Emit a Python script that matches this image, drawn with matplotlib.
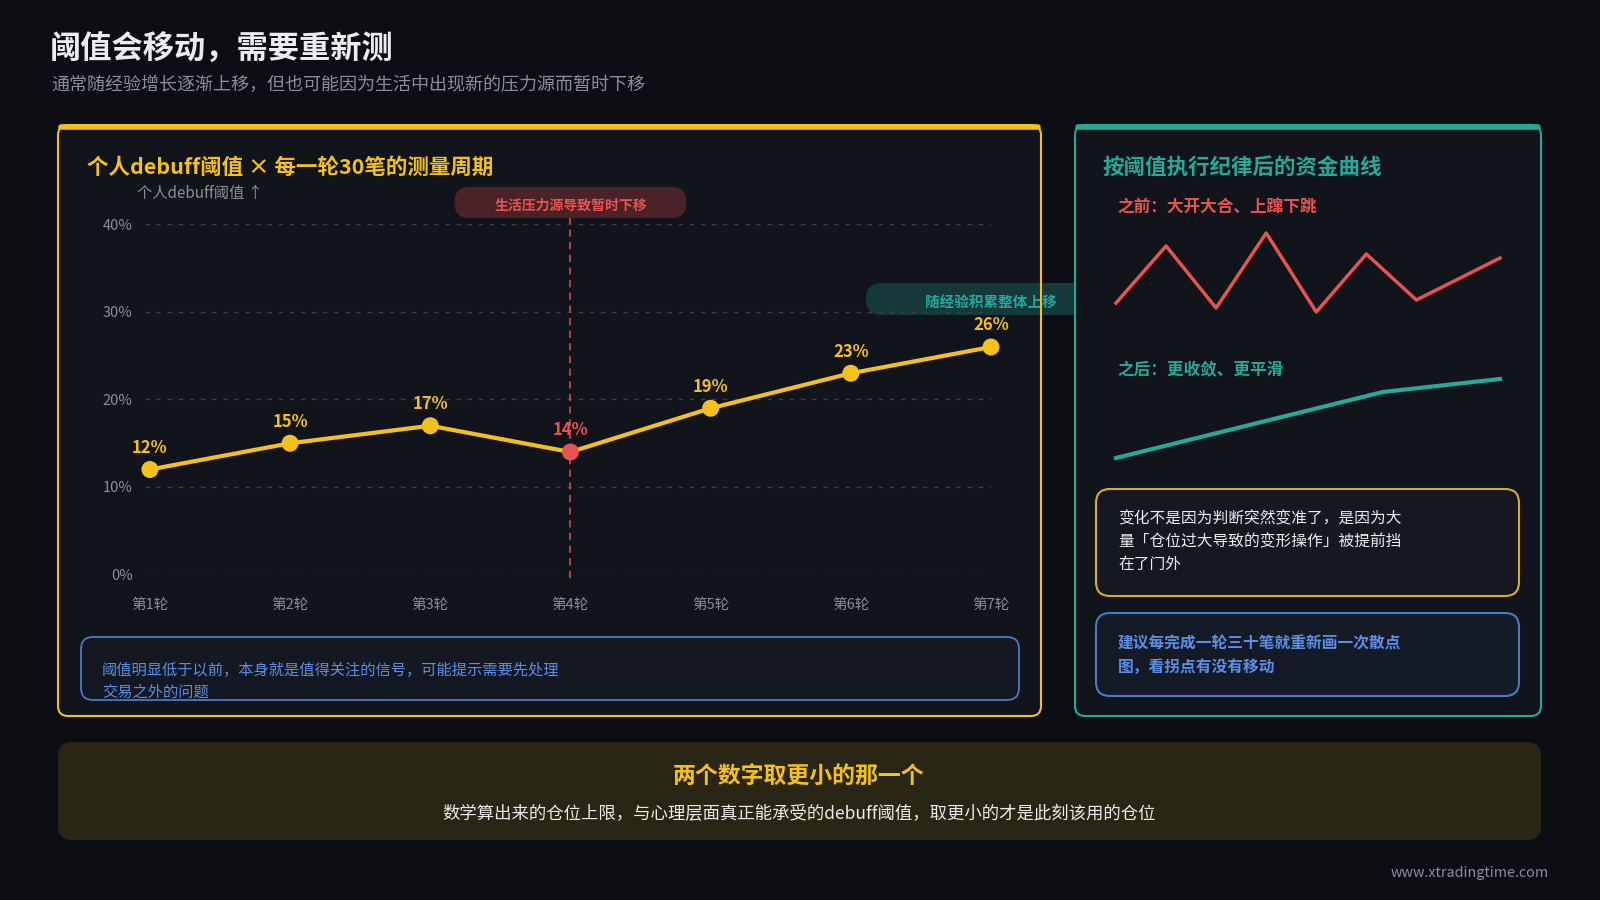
"""
Threshold drift chart: personal debuff threshold per 30-trade round,
plus a before/after equity-curve sketch.
"""

import matplotlib.pyplot as plt
from matplotlib.patches import FancyBboxPatch

plt.rcParams['font.family'] = ['Noto Sans CJK SC', 'DejaVu Sans']

# ---------------------------------------------------------------------------
# Data
# ---------------------------------------------------------------------------

rounds = ['第1轮', '第2轮', '第3轮', '第4轮', '第5轮', '第6轮', '第7轮']
threshold_pct = [12, 15, 17, 14, 19, 23, 26]
dip_index = 3
y_ticks = [0, 10, 20, 30, 40]

# equity sketch (arbitrary units)
before_t = [0, 1, 2, 3, 4, 5, 6, 7.67]
before_v = [17, 74, 12, 87, 8, 66, 20, 62]
after_t = [0, 5.33, 7.67]
after_v = [-138, -72, -59]

# ---------------------------------------------------------------------------
# Style
# ---------------------------------------------------------------------------

BG = '#0d0e13'
PANEL = '#11141b'
YELLOW = '#f3c01c'
RED = '#e8534f'
TEAL = '#27a99a'
BLUE = '#5b8ee6'
WHITE = '#ececee'
GRAY = '#8b8e97'
GRID = '#3b3e47'

W, H = 1600, 900
DY = 2.5  # CJK glyphs sit a little high with va='center'

fig = plt.figure(figsize=(16, 9), dpi=100, facecolor=BG)

# background layer in pixel coordinates (origin top-left)
bg = fig.add_axes([0, 0, 1, 1])
bg.set_xlim(0, W)
bg.set_ylim(H, 0)
bg.axis('off')
bg.set_facecolor(BG)


def rbox(x0, y0, x1, y1, r, fc, ec='none', lw=0, z=1):
    p = FancyBboxPatch((x0, y0), x1 - x0, y1 - y0,
                       boxstyle=f'round,pad=0,rounding_size={r}',
                       fc=fc, ec=ec, lw=lw, zorder=z)
    bg.add_patch(p)
    return p


def txt(x, y, s, **kw):
    kw.setdefault('va', 'center')
    kw.setdefault('ha', 'left')
    return bg.text(x, y + DY, s, **kw)


def fig_rect(x0, y0, x1, y1):
    return [x0 / W, 1 - y1 / H, (x1 - x0) / W, (y1 - y0) / H]


# header
txt(50, 47, '阈值会移动，需要重新测', color=WHITE, fontsize=22.5, fontweight='bold')
txt(51, 82, '通常随经验增长逐渐上移，但也可能因为生活中出现新的压力源而暂时下移',
    color=GRAY, fontsize=13)

# ---------------------------------------------------------------------------
# Left panel
# ---------------------------------------------------------------------------

rbox(58, 125, 1041, 716, 10, PANEL, z=1)

# chart axes geometry (pixels)
AX_L, AX_R, AX_T, AX_B = 145, 991, 224.5, 574.5
XMIN, XMAX = -0.035, len(rounds) - 1
YMIN, YMAX = 0, 40


def px_x(i):
    return AX_L + (i - XMIN) / (XMAX - XMIN) * (AX_R - AX_L)


# teal pill near last point (sits under right panel and left border)
last = len(rounds) - 1
rbox(px_x(last) - 125, 283, px_x(last) + 125, 315, 16, '#15383a', z=2)
txt(px_x(last), 299, '随经验积累整体上移', color=TEAL, fontsize=10.5,
    fontweight='bold', ha='center', zorder=3)

# red pill above the dip
rbox(px_x(dip_index) - 116, 187, px_x(dip_index) + 116, 218, 15, '#4a2227', z=2)
txt(px_x(dip_index), 203, '生活压力源导致暂时下移', color=RED, fontsize=10,
    fontweight='bold', ha='center', zorder=3)

# left panel border + top bar
rbox(58, 125, 1041, 716, 10, 'none', ec=YELLOW, lw=1.5, z=4)
bg.plot([61, 1038], [126.5, 126.5], color=YELLOW, lw=4, solid_capstyle='round', zorder=5)

txt(87, 165, '个人debuff阈值 × 每一轮30笔的测量周期', color=YELLOW,
    fontsize=15.5, fontweight='bold')
txt(137, 191, '个人debuff阈值 ↑', color=GRAY, fontsize=11)

# note box
rbox(81, 637, 1019, 700, 12, '#141822', ec='#4b79c8', lw=1.3, z=2)
txt(102, 668, '阈值明显低于以前，本身就是值得关注的信号，可能提示需要先处理',
    color=BLUE, fontsize=11, zorder=3)
txt(102, 690, '交易之外的问题', color=BLUE, fontsize=11, zorder=3)

# line chart
ax = fig.add_axes(fig_rect(AX_L, AX_T, AX_R, AX_B))
ax.set_facecolor('none')
ax.set_xlim(XMIN, XMAX)
ax.set_ylim(YMIN, YMAX)
for s in ax.spines.values():
    s.set_visible(False)
ax.set_yticks(y_ticks)
ax.set_yticklabels([f'{v}%' for v in y_ticks])
ax.set_xticks(range(len(rounds)))
ax.set_xticklabels(rounds)
ax.tick_params(axis='both', length=0, colors=GRAY, labelsize=10.5)
ax.tick_params(axis='y', pad=9)
ax.tick_params(axis='x', pad=17)
for v in y_ticks:
    ax.axhline(v, color=GRID, lw=1, ls=(0, (3, 5)), zorder=1)

ax.plot([dip_index, dip_index], [-0.4, 40.7], color=RED, lw=1.3, ls=(0, (4, 3)),
        alpha=0.8, clip_on=False, zorder=2)

xs = list(range(len(rounds)))
ax.plot(xs, threshold_pct, color=YELLOW, lw=3, zorder=3, clip_on=False)
colors = [RED if i == dip_index else YELLOW for i in xs]
ax.scatter(xs, threshold_pct, s=150, c=colors, zorder=4, clip_on=False, linewidths=0)
for i, v in zip(xs, threshold_pct):
    ax.annotate(f'{v}%', (i, v), xytext=(0, 15.5), textcoords='offset points',
                ha='center', va='center', fontsize=12, fontweight='bold',
                color=colors[i], zorder=5)

# ---------------------------------------------------------------------------
# Right panel
# ---------------------------------------------------------------------------

rbox(1075, 125, 1541, 716, 10, PANEL, ec=TEAL, lw=1.5, z=6)
bg.plot([1078, 1538], [126.5, 126.5], color=TEAL, lw=4, solid_capstyle='round', zorder=7)

txt(1103, 165, '按阈值执行纪律后的资金曲线', color=TEAL, fontsize=15.5,
    fontweight='bold', zorder=7)
txt(1117, 205, '之前：大开大合、上蹿下跳', color=RED, fontsize=12,
    fontweight='bold', zorder=7)
txt(1117, 368, '之后：更收敛、更平滑', color=TEAL, fontsize=12,
    fontweight='bold', zorder=7)

rbox(1096, 489, 1519, 596, 14, '#151820', ec='#d9ad2b', lw=1.5, z=7)
box_lines = ['变化不是因为判断突然变准了，是因为大',
             '量「仓位过大导致的变形操作」被提前挡',
             '在了门外']
for k, line in enumerate(box_lines):
    txt(1118, 516 + k * 23, line, color=WHITE, fontsize=11.3, zorder=8)

rbox(1096, 613, 1519, 696, 14, '#141a26', ec='#4b79c8', lw=1.5, z=7)
tip_lines = ['建议每完成一轮三十笔就重新画一次散点', '图，看拐点有没有移动']
for k, line in enumerate(tip_lines):
    txt(1118, 641 + k * 23, line, color=BLUE, fontsize=11.3,
        fontweight='bold', zorder=8)

# equity sketch
ax2 = fig.add_axes(fig_rect(1116, 230, 1500, 460))
ax2.set_facecolor('none')
ax2.axis('off')
ax2.set_xlim(0, 7.67)
ax2.set_ylim(-140, 90)
ax2.plot(before_t, before_v, color=RED, lw=2.5, clip_on=False)
ax2.plot(after_t, after_v, color=TEAL, lw=3, clip_on=False)

# ---------------------------------------------------------------------------
# Bottom band + footer
# ---------------------------------------------------------------------------

rbox(58, 742, 1541, 840, 14, '#2a2615', z=1)
txt(799, 775, '两个数字取更小的那一个', color=YELLOW, fontsize=16.5,
    fontweight='bold', ha='center', zorder=2)
txt(799, 812, '数学算出来的仓位上限，与心理层面真正能承受的debuff阈值，取更小的才是此刻该用的仓位',
    color=WHITE, fontsize=12.5, ha='center', zorder=2)

txt(1549, 870, 'www.xtradingtime.com', color=GRAY, fontsize=10.3, ha='right')

fig.savefig('out.png', dpi=100, facecolor=BG)
